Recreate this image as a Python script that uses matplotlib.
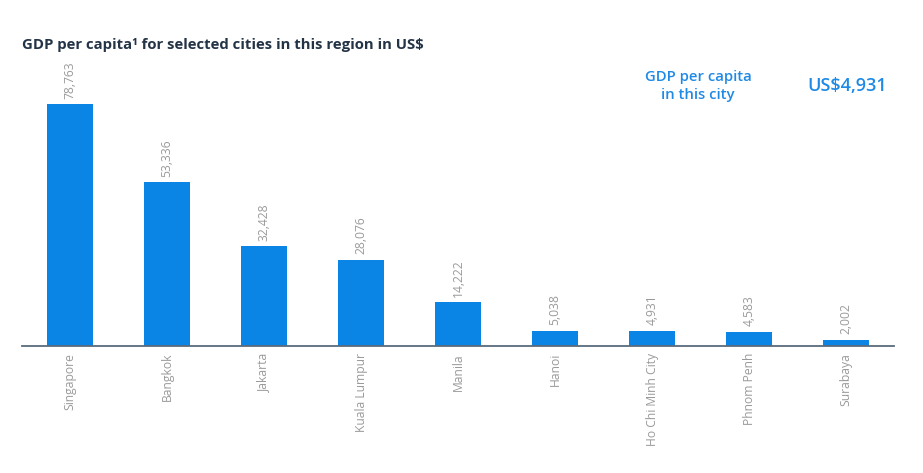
import matplotlib.pyplot as plt
import numpy as np

plt.rcParams['font.family'] = ['Open Sans', 'DejaVu Sans']

# Data
cities = ['Singapore', 'Bangkok', 'Jakarta', 'Kuala Lumpur', 'Manila',
          'Hanoi', 'Ho Chi Minh City', 'Phnom Penh', 'Surabaya']
gdp = [78763, 53336, 32428, 28076, 14222, 5038, 4931, 4583, 2002]
value_labels = ['78,763', '53,336', '32,428', '28,076', '14,222',
                '5,038', '4,931', '4,583', '2,002']

bar_color = '#0a85e6'
text_gray = '#9a9a9a'

fig = plt.figure(figsize=(9.23, 4.73), dpi=100)
ax = fig.add_axes([0.0238, 0.2685, 0.945, 0.6047])

x = np.arange(len(cities))
ax.bar(x, gdp, width=0.475, color=bar_color)

# value labels above bars
for xi, v, lab in zip(x, gdp, value_labels):
    ax.annotate(lab, (xi, v), xytext=(0, 4), textcoords='offset points',
                rotation=90, ha='center', va='bottom', color=text_gray, fontsize=8.7)

ax.set_xlim(-0.495, 8.495)
ax.set_ylim(0, 93200)
ax.set_xticks(x)
ax.set_xticklabels(cities, rotation=90, color=text_gray, fontsize=8.7)
ax.tick_params(axis='x', length=0, pad=5)
ax.set_yticks([])

for s in ['top', 'right', 'left']:
    ax.spines[s].set_visible(False)
ax.spines['bottom'].set_color('#5b6b7b')
ax.spines['bottom'].set_linewidth(1.3)

# title and highlight
fig.text(22 / 923, 1 - 45 / 473, 'GDP per capita¹ for selected cities in this region in US$',
         ha='left', va='center', fontsize=10.7, fontweight='bold', color='#243447')
fig.text(698 / 923, 1 - 86 / 473, 'GDP per capita\nin this city', ha='center', va='center',
         fontsize=10.7, color='#1e8ae6', fontweight='semibold', linespacing=1.3)
fig.text(847 / 923, 1 - 86 / 473, 'US$4,931', ha='center', va='center',
         fontsize=13, color='#1e8ae6', fontweight='semibold')

plt.savefig('out.png', dpi=100)
